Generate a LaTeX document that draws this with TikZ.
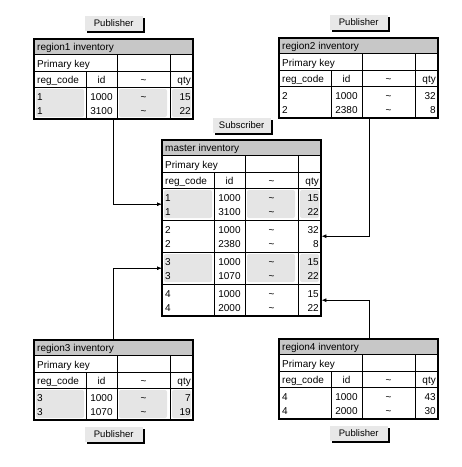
\documentclass[tikz,border=0pt]{standalone}
\usepackage{fontspec}
\setmainfont{Liberation Sans}
\usetikzlibrary{positioning,arrows.meta,shadows}

\begin{document}
\begin{tikzpicture}[x=1pt,y=-1pt,
    txt/.style={inner sep=0pt,font=\fontsize{10}{12}\selectfont},
    frame/.style={line width=1.3pt},
    grid/.style={line width=0.8pt},
    btn/.style={fill=black!9,minimum width=58pt,minimum height=15pt,inner sep=0pt,
        font=\fontsize{9.5}{11}\selectfont,
        general shadow={shadow xshift=2pt,shadow yshift=-2pt,fill=black}},
    link/.style={line width=0.8pt,-{Latex[length=5pt,width=4pt]}}]

    \useasboundingbox (0,0) rectangle (462,467);

    % region tables
    \foreach \t/\x/\y/\k/\ia/\ib/\qa/\qb/\sh in {r1/34/39/1/1000/3100/15/22/black!10,
        r2/279/38/2/1000/2380/32/8/white, r3/34/340/3/1000/1070/7/19/black!10,
        r4/279/339/4/1000/2000/43/30/white}{
        \begin{scope}[shift={(\x,\y)}]
            \node[inner sep=0pt,minimum width=159pt,minimum height=80pt,anchor=north west] (\t) at (0,0) {};
            \fill[black!22] (1,1) rectangle (158,15);
            \fill[\sh,rounded corners=2pt] (2,50) rectangle (50,78) (85,50) rectangle (133,78) (138,50) rectangle (157,78);
            \draw[grid] (0,15) -- (159,15) (0,32) -- (159,32) (0,48) -- (159,48);
            \draw[grid] (83,15) -- (83,80) (136,15) -- (136,80) (52,32) -- (52,80);
            \draw[frame] (0,0) rectangle (159,80);
            \node[txt,anchor=base west] at (3,11) {region\k\ inventory};
            \node[txt,anchor=base west] at (3,28) {Primary key};
            \node[txt,anchor=base west] at (3,44) {reg\_code};
            \node[txt,anchor=base] at (67.5,44) {id};
            \node[txt,anchor=base] at (109.5,44) {\textasciitilde};
            \node[txt,anchor=base east] at (157,44) {qty};
            \node[txt,anchor=base west] at (3,61) {\k};
            \node[txt,anchor=base west] at (3,75) {\k};
            \node[txt,anchor=base] at (67.5,61) {\ia};
            \node[txt,anchor=base] at (67.5,75) {\ib};
            \node[txt,anchor=base] at (109.5,61) {\textasciitilde};
            \node[txt,anchor=base] at (109.5,75) {\textasciitilde};
            \node[txt,anchor=base east] at (157,61) {\qa};
            \node[txt,anchor=base east] at (157,75) {\qb};
        \end{scope}
    }

    % master table
    \begin{scope}[shift={(162,140)}]
        \node[inner sep=0pt,minimum width=159pt,minimum height=176pt,anchor=north west] (m) at (0,0) {};
        \fill[black!22] (1,1) rectangle (158,15);
        \foreach \g/\ia/\ib/\qa/\qb/\sh in {1/1000/3100/15/22/black!10, 2/1000/2380/32/8/white,
            3/1000/1070/15/22/black!10, 4/1000/2000/15/22/white}{
            \node[inner sep=0pt,minimum width=159pt,minimum height=32pt,anchor=north west] (m\g) at (0,{16+32*\g}) {};
            \fill[\sh,rounded corners=2pt] (2,{18+32*\g}) rectangle (50,{46+32*\g})
                (85,{18+32*\g}) rectangle (133,{46+32*\g}) (138,{18+32*\g}) rectangle (157,{46+32*\g});
            \node[txt,anchor=base west] at (3,{29+32*\g}) {\g};
            \node[txt,anchor=base west] at (3,{43+32*\g}) {\g};
            \node[txt,anchor=base] at (67.5,{29+32*\g}) {\ia};
            \node[txt,anchor=base] at (67.5,{43+32*\g}) {\ib};
            \node[txt,anchor=base] at (109.5,{29+32*\g}) {\textasciitilde};
            \node[txt,anchor=base] at (109.5,{43+32*\g}) {\textasciitilde};
            \node[txt,anchor=base east] at (157,{29+32*\g}) {\qa};
            \node[txt,anchor=base east] at (157,{43+32*\g}) {\qb};
            \draw[grid] (0,{16+32*\g}) -- (159,{16+32*\g});
        }
        \draw[grid] (0,15) -- (159,15) (0,32) -- (159,32);
        \draw[grid] (83,15) -- (83,176) (136,15) -- (136,176) (52,32) -- (52,176);
        \draw[frame] (0,0) rectangle (159,176);
        \node[txt,anchor=base west] at (3,11) {master inventory};
        \node[txt,anchor=base west] at (3,28) {Primary key};
        \node[txt,anchor=base west] at (3,44) {reg\_code};
        \node[txt,anchor=base] at (67.5,44) {id};
        \node[txt,anchor=base] at (109.5,44) {\textasciitilde};
        \node[txt,anchor=base east] at (157,44) {qty};
    \end{scope}

    \node[btn,above=8pt of r1] (pub1) {Publisher};
    \node[btn,above=8pt of r2] (pub2) {Publisher};
    \node[btn,below=6pt of r3] (pub3) {Publisher};
    \node[btn,below=6pt of r4] (pub4) {Publisher};
    \node[btn,above=7pt of m] (sub) {Subscriber};

    \draw[link] (r1.south) |- (m1.west);
    \draw[link] ([xshift=11pt]r2.south) |- (m2.east);
    \draw[link] (r3.north) |- (m3.west);
    \draw[link] ([xshift=11pt]r4.north) |- (m4.east);
\end{tikzpicture}
\end{document}
